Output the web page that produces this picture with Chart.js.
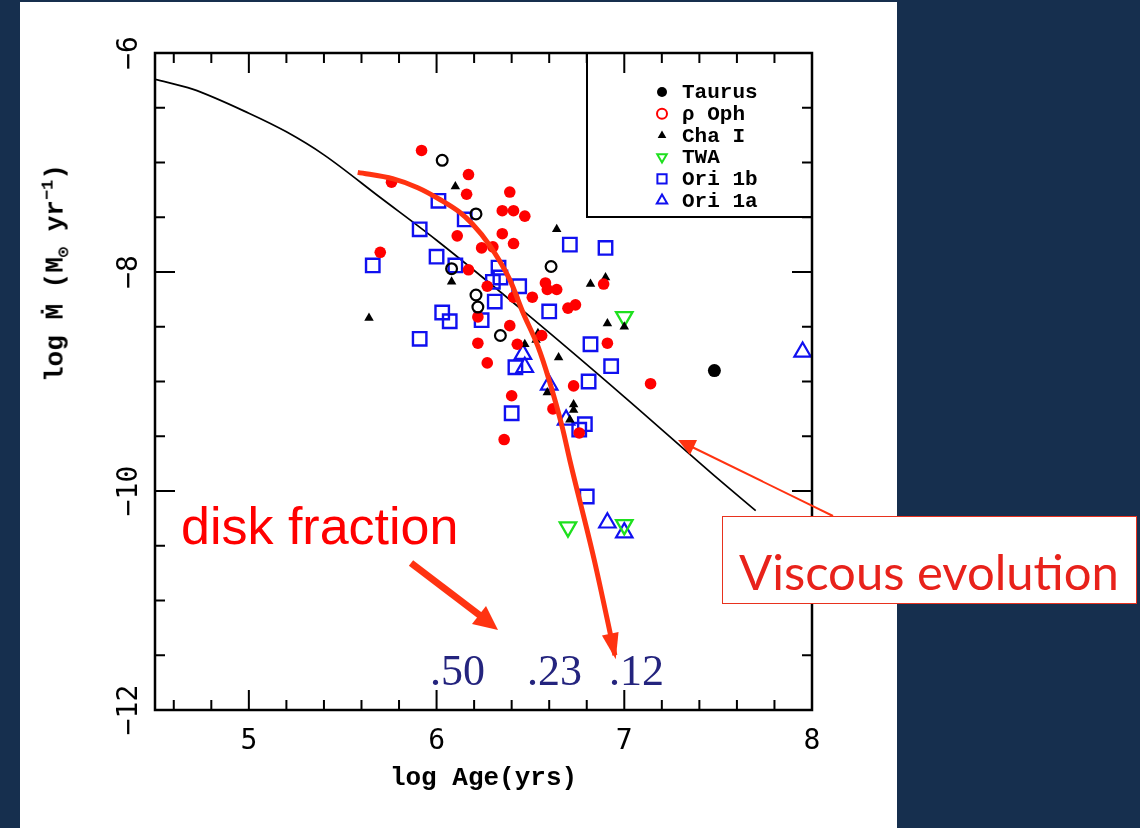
<!DOCTYPE html>
<html>
<head>
<meta charset="utf-8">
<script src="https://cdn.jsdelivr.net/npm/chart.js@4.4.1/dist/chart.umd.min.js"></script>
<style>
  html, body { margin: 0; padding: 0; }
  body { width: 1140px; height: 828px; background: #162f4e; position: relative; overflow: hidden; }
  #panel { position: absolute; left: 20px; top: 2px; width: 877px; height: 826px; background: #fff; }
  #myGraph { position: absolute; left: 20px; top: 0; }
  .note { position: absolute; white-space: nowrap; line-height: 1; }
  #ytitle { left: 56px; top: 273px; transform: translate(-50%, -50%) rotate(-90deg);
            font: bold 26px "Liberation Mono", monospace; color: #000; }
  #ytitle sub, #ytitle sup { font-size: 17px; }
  #diskText { left: 181px; top: 496px; font: 52px "Liberation Sans", Arial, sans-serif; color: #ff0000; }
  .frac { top: 645px; font: 44px "Liberation Serif", serif; color: #24247e; }
  #viscBox { position: absolute; left: 722px; top: 516px; width: 413px; height: 86px;
             border: 1.5px solid #e8321e; background: #fff; }
  #viscText { left: 739px; top: 542px; font: 49px Lato, sans-serif; color: #e8221b; }
  svg { position: absolute; left: 0; top: 0; }
</style>
</head>
<body>
<div id="panel"></div>
<canvas id="myGraph" width="877" height="828"></canvas>

<div class="note" id="ytitle">log Ṁ (M<sub>⊙</sub> yr<sup>−1</sup>)</div>
<div class="note" id="diskText">disk fraction</div>
<div class="note frac" style="left:430px">.50</div>
<div class="note frac" style="left:527px">.23</div>
<div class="note frac" style="left:609px">.12</div>
<div id="viscBox"></div>
<div class="note" id="viscText">Viscous evolution</div>

<svg width="1140" height="828">
  <line x1="411" y1="563" x2="482" y2="617" stroke="#ff3311" stroke-width="7"/>
  <polygon points="498,630 472,624 486,606" fill="#ff3311"/>
  <line x1="833" y1="516" x2="690" y2="446" stroke="#ff3311" stroke-width="2"/>
  <polygon points="678,440 697,440 690,455" fill="#ff3311"/>
</svg>

<script>
const ctx = document.getElementById('myGraph');

// axis ticks
const xTicks = [5, 6, 7, 8];
const yTicks = [-12, -10, -8, -6];

// viscous evolution model (black line)
const viscX = [4.5, 4.7, 5.0, 5.2, 5.4, 5.7, 6.0, 6.5, 7.0, 7.5, 7.7];
const viscY = [-6.24, -6.33, -6.55, -6.72, -6.93, -7.32, -7.71, -8.41, -9.14, -9.89, -10.18];

// disk fraction curve (red)
const diskX = [5.58, 5.77, 5.9, 6.02, 6.12, 6.19, 6.28, 6.39, 6.46, 6.54, 6.60, 6.67, 6.71, 6.84, 6.95];
const diskY = [-7.09, -7.15, -7.23, -7.34, -7.45, -7.56, -7.75, -8.07, -8.37, -8.68, -8.99, -9.42, -9.72, -10.63, -11.50];

// Taurus
const tauX = [7.48];
const tauY = [-8.90];
const openX = [6.03, 6.21, 6.61, 6.08, 6.21, 6.22, 6.34];
const openY = [-6.98, -7.47, -7.95, -7.97, -8.21, -8.32, -8.58];

// rho Oph
const ophX = [5.92, 6.17, 5.76, 6.16, 6.39, 6.35, 6.41, 6.47, 6.11, 6.35, 6.41, 6.24, 6.30, 5.70, 6.17, 6.27, 6.58, 6.59, 6.64, 6.89,
              6.41, 6.51, 6.70, 6.74, 6.22, 6.39, 6.56, 6.22, 6.43, 6.91, 6.27, 6.73, 7.14, 6.40, 6.62, 6.76, 6.36];
const ophY = [-6.89, -7.11, -7.18, -7.29, -7.27, -7.44, -7.44, -7.49, -7.67, -7.65, -7.74, -7.78, -7.77, -7.82, -7.98, -8.13, -8.10, -8.16, -8.16, -8.11,
              -8.23, -8.23, -8.33, -8.30, -8.41, -8.49, -8.58, -8.65, -8.66, -8.65, -8.83, -9.04, -9.02, -9.13, -9.25, -9.47, -9.53];

// Cha I
const chaX = [6.10, 6.64, 6.08, 6.82, 6.90, 5.64, 6.91, 7.00, 6.47, 6.54, 6.53, 6.65, 6.59, 6.73, 6.73, 6.71];
const chaY = [-7.22, -7.61, -8.09, -8.11, -8.05, -8.42, -8.47, -8.50, -8.66, -8.56, -8.62, -8.78, -9.10, -9.21, -9.26, -9.35];

// TWA
const twaX = [7.00, 6.70, 7.00];
const twaY = [-8.41, -10.33, -10.31];

// Ori 1b
const o1bX = [6.01, 6.15, 5.91, 6.00, 5.66, 6.10, 6.33, 6.30, 6.34, 6.44, 6.31, 6.71, 6.90, 6.60, 6.03, 6.07, 6.24, 5.91, 6.82, 6.42,
              6.93, 6.81, 6.40, 6.79, 6.76, 6.80];
const o1bY = [-7.35, -7.52, -7.61, -7.86, -7.94, -7.94, -7.96, -8.09, -8.05, -8.13, -8.27, -7.75, -7.78, -8.36, -8.37, -8.45, -8.44, -8.61, -8.66, -8.87,
              -8.86, -9.00, -9.29, -9.39, -9.44, -10.05];

// Ori 1a
const o1aX = [6.46, 6.47, 6.60, 6.69, 7.95, 6.91, 7.00];
const o1aY = [-8.75, -8.87, -9.03, -9.35, -8.73, -10.29, -10.38];

const pts = (xs, ys) => xs.map((x, i) => ({x: x, y: ys[i]}));
const clear = 'rgba(0,0,0,0)';

const data = {
  datasets: [
    {
      label: 'disk fraction',
      data: pts(diskX, diskY),
      showLine: true,
      borderColor: '#ff3311',
      borderWidth: 5,
      pointRadius: 0,
      cubicInterpolationMode: 'monotone'
    },
    {
      label: 'Taurus',
      data: pts(tauX, tauY),
      pointStyle: 'circle', pointRadius: 6.5,
      backgroundColor: '#000', borderWidth: 0,
      legend: {style: 'circle', radius: 5, fill: '#000', stroke: '#000', width: 0}
    },
    {
      label: 'Taurus (open)',
      data: pts(openX, openY),
      pointStyle: 'circle', pointRadius: 5.4,
      backgroundColor: clear, borderColor: '#000', borderWidth: 2.2
    },
    {
      label: 'ρ Oph',
      data: pts(ophX, ophY),
      pointStyle: 'circle', pointRadius: 5.8,
      backgroundColor: '#ff0000', borderWidth: 0,
      legend: {style: 'circle', radius: 5, fill: clear, stroke: '#ff0000', width: 2}
    },
    {
      label: 'Cha I',
      data: pts(chaX, chaY),
      pointStyle: 'triangle', pointRadius: 5.5,
      backgroundColor: '#000', borderWidth: 0,
      legend: {style: 'triangle', radius: 5, fill: '#000', stroke: '#000', width: 0}
    },
    {
      label: 'TWA',
      data: pts(twaX, twaY),
      pointStyle: 'triangle', rotation: 180, pointRadius: 9.5,
      backgroundColor: clear, borderColor: '#1ee01e', borderWidth: 2.3,
      legend: {style: 'triangle', rotation: 180, radius: 5.5, fill: clear, stroke: '#1ee01e', width: 2}
    },
    {
      label: 'Ori 1b',
      data: pts(o1bX, o1bY),
      pointStyle: 'rect', pointRadius: 9.5,
      backgroundColor: clear, borderColor: '#1010f0', borderWidth: 2.4,
      legend: {style: 'rect', radius: 6.5, fill: clear, stroke: '#1010f0', width: 2}
    },
    {
      label: 'Ori 1a',
      data: pts(o1aX, o1aY),
      pointStyle: 'triangle', pointRadius: 9.5,
      backgroundColor: clear, borderColor: '#1010f0', borderWidth: 2.2,
      legend: {style: 'triangle', radius: 6, fill: clear, stroke: '#1010f0', width: 2}
    },
    {
      label: 'viscous evolution',
      data: pts(viscX, viscY),
      showLine: true,
      borderColor: '#000',
      borderWidth: 1.7,
      pointRadius: 0,
      cubicInterpolationMode: 'monotone'
    }
  ]
};

// frame with inward ticks on all four sides
const frameTicks = {
  id: 'frameTicks',
  afterDatasetsDraw(chart) {
    const {ctx, chartArea: a, scales: {x, y}} = chart;
    ctx.save();
    ctx.strokeStyle = '#000';
    ctx.lineWidth = 2;
    ctx.beginPath();
    for (let i = 1; i < 18; i++) {
      const v = 4.5 + i * 0.2 - 0.1;
      const px = x.getPixelForValue(v);
      const len = Math.abs(v - Math.round(v)) < 0.01 ? 20 : 10;
      ctx.moveTo(px, a.bottom); ctx.lineTo(px, a.bottom - len);
      ctx.moveTo(px, a.top); ctx.lineTo(px, a.top + len);
    }
    for (let i = 1; i < 12; i++) {
      const v = -12 + i * 0.5;
      const py = y.getPixelForValue(v);
      const len = v % 2 === 0 ? 20 : 10;
      ctx.moveTo(a.left, py); ctx.lineTo(a.left + len, py);
      ctx.moveTo(a.right, py); ctx.lineTo(a.right - len, py);
    }
    ctx.stroke();
    ctx.lineWidth = 2.5;
    ctx.strokeRect(a.left, a.top, a.right - a.left, a.bottom - a.top);

    // arrow head on the disk fraction curve
    const d = chart.getDatasetMeta(0).data;
    const tip = d[d.length - 1], prev = d[d.length - 2];
    const ang = Math.atan2(tip.y - prev.y, tip.x - prev.x);
    ctx.translate(tip.x, tip.y);
    ctx.rotate(ang);
    ctx.fillStyle = '#ff3311';
    ctx.beginPath();
    ctx.moveTo(4, 0); ctx.lineTo(-22, -8.5); ctx.lineTo(-22, 8.5);
    ctx.closePath();
    ctx.fill();
    ctx.restore();
  }
};

// boxed legend in the upper right corner
const legendBox = {
  id: 'legendBox',
  afterDatasetsDraw(chart) {
    const {ctx, chartArea: a} = chart;
    const left = a.right - 225, bottom = a.top + 164;
    ctx.save();
    ctx.strokeStyle = '#000';
    ctx.lineWidth = 2;
    ctx.beginPath();
    ctx.moveTo(left, a.top); ctx.lineTo(left, bottom); ctx.lineTo(a.right, bottom);
    ctx.stroke();
    ctx.font = 'bold 21px "Liberation Mono", monospace';
    ctx.textBaseline = 'middle';
    chart.data.datasets.filter(ds => ds.legend).forEach((ds, i) => {
      const lg = ds.legend;
      const yy = a.top + 39 + i * 21.7;
      ctx.fillStyle = lg.fill;
      ctx.strokeStyle = lg.stroke;
      ctx.lineWidth = lg.width;
      Chart.helpers.drawPoint(ctx, {pointStyle: lg.style, rotation: lg.rotation || 0, radius: lg.radius, borderWidth: lg.width}, left + 75, yy);
      ctx.fillStyle = '#000';
      ctx.fillText(ds.label, left + 95, yy + 1);
    });
    ctx.restore();
  }
};

const config = {
  type: 'scatter',
  data: data,
  options: {
    responsive: false,
    animation: false,
    layout: {padding: {left: 0, top: 53, right: 85, bottom: 0}},
    plugins: {legend: {display: false}, tooltip: {enabled: false}},
    scales: {
      x: {
        type: 'linear', min: 4.5, max: 8,
        afterBuildTicks: s => { s.ticks = xTicks.map(v => ({value: v})); },
        afterFit: s => { s.height = 118; },
        grid: {display: false, drawTicks: false},
        border: {display: false},
        ticks: {color: '#000', padding: 15, maxRotation: 0, autoSkip: false,
                font: {family: '"DejaVu Sans Mono", monospace', size: 28}},
        title: {display: true, text: 'log Age(yrs)', color: '#000',
                font: {family: '"Liberation Mono", monospace', size: 26, weight: 'bold'},
                padding: {top: 0, bottom: 34}}
      },
      y: {
        type: 'linear', min: -12, max: -6,
        afterBuildTicks: s => { s.ticks = yTicks.map(v => ({value: v})); },
        afterFit: s => { s.width = 135; },
        grid: {display: false, drawTicks: false},
        border: {display: false},
        ticks: {color: '#000', padding: 0, crossAlign: 'center', minRotation: 90, maxRotation: 90,
                font: {family: '"DejaVu Sans Mono", monospace', size: 28},
                callback: v => '\u2212' + Math.abs(v)}
      }
    }
  },
  plugins: [frameTicks, legendBox]
};

const myChart = new Chart(ctx, config);
</script>
</body>
</html>
